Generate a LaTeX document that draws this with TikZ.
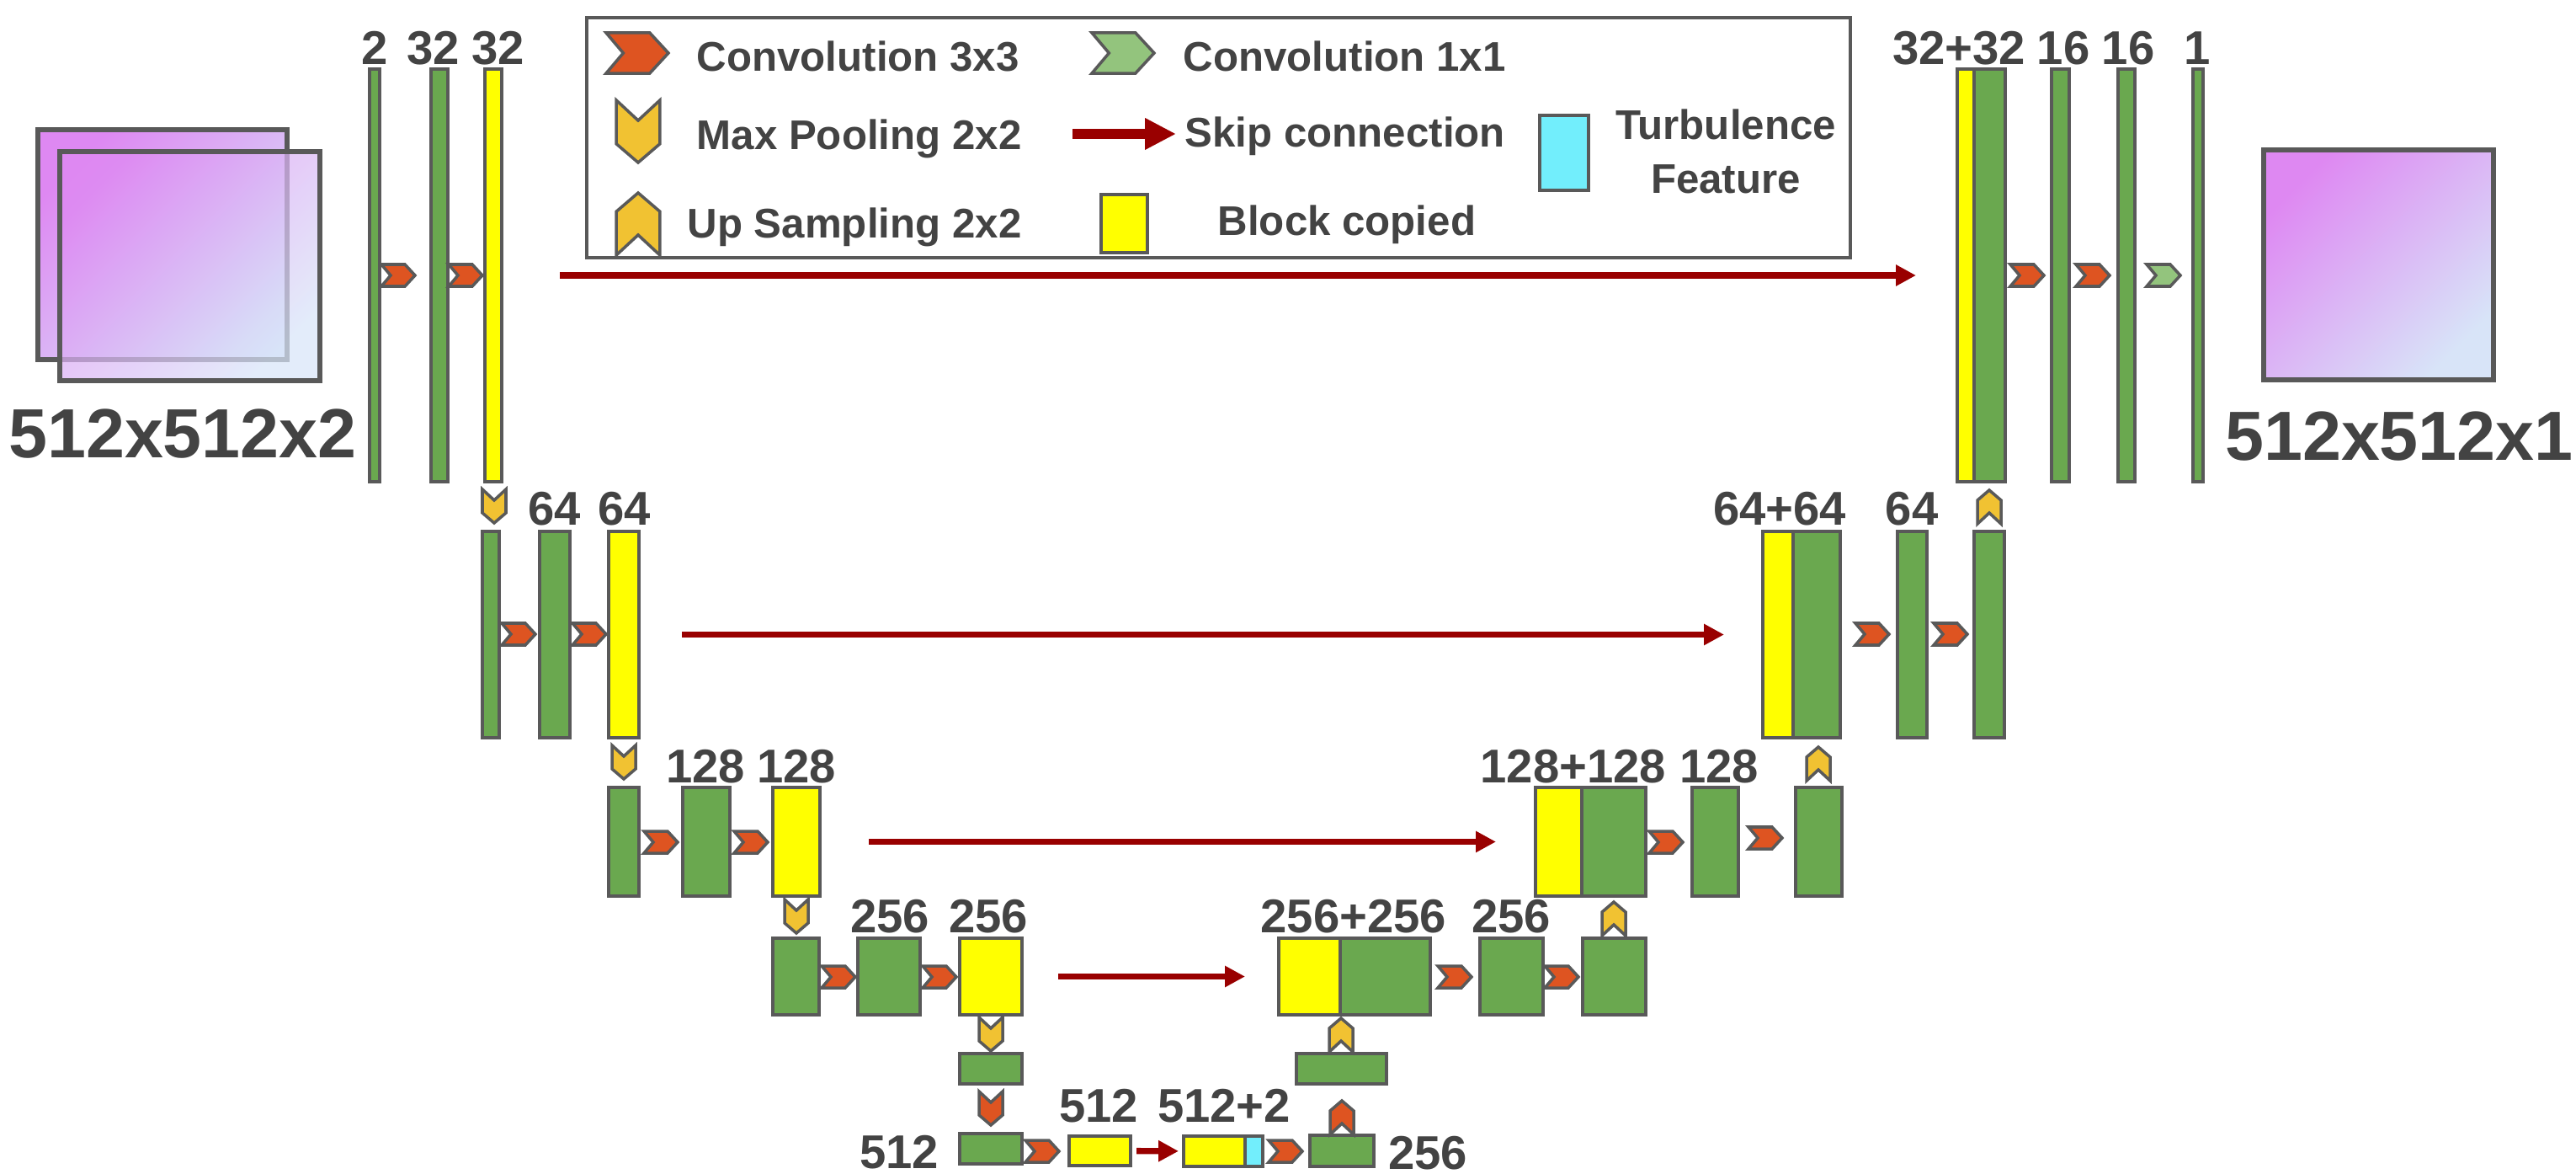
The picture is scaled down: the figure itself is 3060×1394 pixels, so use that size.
\documentclass[tikz,border=0pt]{standalone}
\usepackage{fontspec}
\setmainfont{Liberation Sans}
\usetikzlibrary{arrows.meta,fit}

\definecolor{convred}{HTML}{DE5421}
\definecolor{convgreen}{HTML}{93C47D}
\definecolor{poolyellow}{HTML}{F1C232}
\definecolor{blockgreen}{HTML}{6AA84F}
\definecolor{blockyellow}{HTML}{FFFF00}
\definecolor{turbcyan}{HTML}{72EEFC}
\definecolor{skipred}{HTML}{990000}
\definecolor{edgegray}{HTML}{595959}
\definecolor{txtgray}{HTML}{434343}
\definecolor{imgtop}{HTML}{DE88F2}
\definecolor{imgbot}{HTML}{D8E4F8}

\tikzset{
  blk/.style={draw=edgegray, line width=0.95pt, inner sep=0pt, outer sep=0pt},
  gblk/.style={blk, fill=blockgreen},
  yblk/.style={blk, fill=blockyellow},
  cblk/.style={blk, fill=turbcyan},
  img/.style={draw=edgegray, line width=1.6pt, inner sep=0pt, outer sep=0pt,
    top color=imgtop, bottom color=imgbot, shading angle=45},
  lbl/.style={font=\fontsize{16}{19}\selectfont\bfseries, text=txtgray, anchor=base, inner sep=0pt},
  biglbl/.style={lbl, font=\fontsize{23.5}{28}\selectfont\bfseries},
  leg/.style={font=\fontsize{14}{18.4}\selectfont\bfseries, text=txtgray, inner sep=0pt},
  skip/.style={draw=skipred, line width=2.1pt, -{Triangle[length=6.8pt,width=6.8pt]}},
  legskip/.style={skip, line width=3.4pt, -{Triangle[length=10.5pt,width=10pt]}},
  chev/.style={draw=edgegray, line width=1pt, line join=miter},
  pics/chevR/.style={code={\draw[chev, fill=#1] (-20,-13) -- (8,-13) -- (20,0) -- (8,13) -- (-20,13) -- (-9,0) -- cycle;}},
  pics/chevD/.style={code={\draw[chev, fill=#1] (-14,-20) -- (0,-7) -- (14,-20) -- (14,8) -- (0,20) -- (-14,8) -- cycle;}},
  pics/chevU/.style={code={\draw[chev, fill=#1] (-14,20) -- (0,7) -- (14,20) -- (14,-8) -- (0,-20) -- (-14,-8) -- cycle;}},
}

\begin{document}
\begin{tikzpicture}[x=0.01cm, y=-0.01cm]
  \useasboundingbox (0,0) rectangle (3060,1394);

  % input and output images
  \node[img, fit={(45,154) (341,427)}] (inB) {};
  \node[img, fill opacity=0.72, fit={(71,180) (380,452)}] (inA) {};
  \node[biglbl] (inL) at (217,543) {512x512x2};
  \node[img, fit={(2689,178) (2962,451)}] (out) {};
  \node[biglbl] (outL) at (2850,546) {512x512x1};

  % legend
  \node[draw=edgegray, line width=0.95pt, inner sep=0pt, fit={(697,21) (2198,306)}] (legend) {};
  \pic[scale=1.85] at (757,63) {chevR=convred};
  \node[leg, anchor=base west] (lg1) at (827,85) {Convolution 3x3};
  \pic[scale=1.85] at (1334,63) {chevR=convgreen};
  \node[leg, anchor=base west] (lg2) at (1405,85) {Convolution 1x1};
  \pic[scale=1.85] at (758,156) {chevD=poolyellow};
  \node[leg, anchor=base west] (lg3) at (827,178) {Max Pooling 2x2};
  \coordinate (skA) at (1274,159);
  \coordinate (skB) at (1397,159);
  \draw[legskip] (skA) -- (skB);
  \node[leg, anchor=base west] (lg4) at (1407,175) {Skip connection};
  \node[cblk, line width=1pt, fit={(1829,137) (1887,226)}] (lgT) {};
  \node[leg, align=center] (lg5) at (2050,180) {Turbulence\\Feature};
  \pic[scale=1.85] at (758,266) {chevU=poolyellow};
  \node[leg, anchor=base west] (lg6) at (816,283) {Up Sampling 2x2};
  \node[yblk, line width=1pt, fit={(1308,231) (1363,300)}] (lgY) {};
  \node[leg, anchor=base west] (lg7) at (1446,280) {Block copied};

  % level 1
  \node[gblk, fit={(439,82) (451,572)}] (e1a) {};
  \node[gblk, fit={(512,82) (532,572)}] (e1b) {};
  \node[yblk, fit={(576,82) (596,572)}] (e1c) {};
  \node[yblk, fit={(2325,82) (2345,572)}] (d1y) {};
  \node[gblk, fit={(2345,82) (2382,572)}] (d1g) {};
  \node[gblk, fit={(2437,82) (2458,572)}] (d1b) {};
  \node[gblk, fit={(2516,82) (2536,572)}] (d1c) {};
  \node[gblk, fit={(2605,82) (2617,572)}] (d1d) {};
  \node[lbl] (t1a) at (445,77) {2};
  \node[lbl] (t1b) at (515,77) {32};
  \node[lbl] (t1c) at (592,77) {32};
  \node[lbl] (t1d) at (2327,77) {32+32};
  \node[lbl] (t1e) at (2451,77) {16};
  \node[lbl] (t1f) at (2528,77) {16};
  \node[lbl] (t1g) at (2610,77) {1};
  \pic at (473,327) {chevR=convred};
  \pic at (553,327) {chevR=convred};
  \pic at (2408,327) {chevR=convred};
  \pic at (2486,327) {chevR=convred};
  \pic at (2570,327) {chevR=convgreen};
  \draw[skip, shorten <=0.69cm, shorten >=0.49cm] (e1c) -- (d1y);

  % level 2
  \node[gblk, fit={(573,631) (593,876)}] (e2a) {};
  \node[gblk, fit={(641,631) (677,876)}] (e2b) {};
  \node[yblk, fit={(723,631) (759,876)}] (e2c) {};
  \node[yblk, fit={(2094,631) (2130,876)}] (d2y) {};
  \node[gblk, fit={(2130,631) (2186,876)}] (d2g) {};
  \node[gblk, fit={(2254,631) (2289,876)}] (d2b) {};
  \node[gblk, fit={(2345,631) (2381,876)}] (d2c) {};
  \node[lbl] (t2a) at (659,623) {64};
  \node[lbl] (t2b) at (742,623) {64};
  \node[lbl] (t2c) at (2114,623) {64+64};
  \node[lbl] (t2d) at (2271,623) {64};
  \pic at (587,601) {chevD=poolyellow};
  \pic at (616,753) {chevR=convred};
  \pic at (700,753) {chevR=convred};
  \pic at (2224,753) {chevR=convred};
  \pic at (2317,753) {chevR=convred};
  \pic at (2363,602) {chevU=poolyellow};
  \draw[skip, shorten <=0.51cm, shorten >=0.46cm] (e2c) -- (d2y);

  % level 3
  \node[gblk, fit={(723,935) (759,1064)}] (e3a) {};
  \node[gblk, fit={(811,935) (867,1064)}] (e3b) {};
  \node[yblk, fit={(918,935) (974,1064)}] (e3c) {};
  \node[yblk, fit={(1824,935) (1879,1064)}] (d3y) {};
  \node[gblk, fit={(1879,935) (1955,1064)}] (d3g) {};
  \node[gblk, fit={(2010,935) (2065,1064)}] (d3b) {};
  \node[gblk, fit={(2133,935) (2188,1064)}] (d3c) {};
  \node[lbl] (t3a) at (838,929) {128};
  \node[lbl] (t3b) at (946,929) {128};
  \node[lbl] (t3c) at (1869,929) {128+128};
  \node[lbl] (t3d) at (2042,929) {128};
  \pic at (741,905) {chevD=poolyellow};
  \pic at (785,1000) {chevR=convred};
  \pic at (892,1000) {chevR=convred};
  \pic at (1979,1000) {chevR=convred};
  \pic at (2097,995) {chevR=convred};
  \pic at (2160,907) {chevU=poolyellow};
  \draw[skip, shorten <=0.58cm, shorten >=0.47cm] (e3c) -- (d3y);

  % level 4
  \node[gblk, fit={(918,1114) (973,1205)}] (e4a) {};
  \node[gblk, fit={(1019,1114) (1093,1205)}] (e4b) {};
  \node[yblk, fit={(1140,1114) (1214,1205)}] (e4c) {};
  \node[yblk, fit={(1519,1114) (1592,1205)}] (d4y) {};
  \node[gblk, fit={(1592,1114) (1699,1205)}] (d4g) {};
  \node[gblk, fit={(1758,1114) (1833,1205)}] (d4b) {};
  \node[gblk, fit={(1880,1114) (1955,1205)}] (d4c) {};
  \node[lbl] (t4a) at (1057,1107) {256};
  \node[lbl] (t4b) at (1174,1107) {256};
  \node[lbl] (t4c) at (1608,1107) {256+256};
  \node[lbl] (t4d) at (1795,1107) {256};
  \pic at (946,1088) {chevD=poolyellow};
  \pic at (996,1160) {chevR=convred};
  \pic at (1116,1160) {chevR=convred};
  \pic at (1728,1160) {chevR=convred};
  \pic at (1855,1160) {chevR=convred};
  \pic at (1917,1091) {chevU=poolyellow};
  \draw[skip, shorten <=0.43cm, shorten >=0.40cm] (e4c) -- (d4y);

  % bottleneck
  \node[gblk, fit={(1140,1251) (1214,1287)}] (e5a) {};
  \node[gblk, fit={(1140,1346) (1214,1382)}] (e5b) {};
  \node[yblk, fit={(1270,1349) (1343,1384)}] (e5c) {};
  \node[yblk, fit={(1406,1349) (1479,1385)}] (e5d) {};
  \node[cblk, fit={(1479,1349) (1500,1385)}] (e5t) {};
  \node[gblk, fit={(1556,1348) (1632,1385)}] (e5e) {};
  \node[gblk, fit={(1540,1251) (1647,1287)}] (d5a) {};
  \node[lbl] (t5a) at (1068,1387) {512};
  \node[lbl] (t5b) at (1305,1332) {512};
  \node[lbl] (t5c) at (1454,1332) {512+2};
  \node[lbl] (t5d) at (1696,1388) {256};
  \pic at (1177,1228) {chevD=poolyellow};
  \pic at (1177,1316) {chevD=convred};
  \pic at (1238,1367) {chevR=convred};
  \pic at (1527,1367) {chevR=convred};
  \pic at (1594,1327) {chevU=convred};
  \pic at (1593,1229) {chevU=poolyellow};
  \draw[skip, shorten <=0.07cm, shorten >=0.06cm] (e5c) -- (e5d);
\end{tikzpicture}
\end{document}
